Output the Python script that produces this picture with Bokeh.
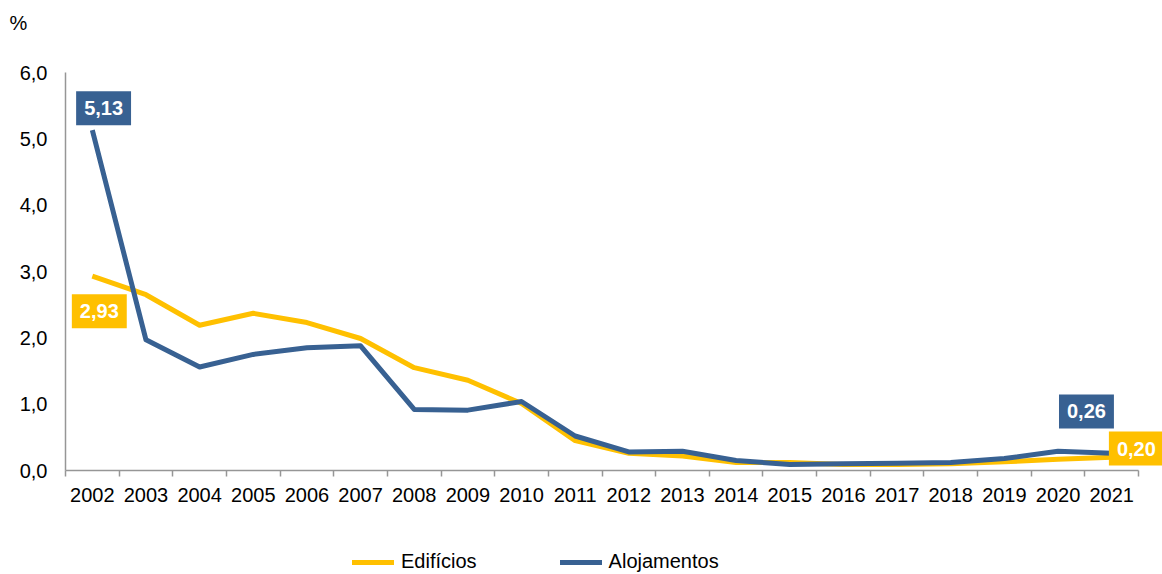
from bokeh.plotting import figure
from bokeh.layouts import column
from bokeh.models import (Range1d, FixedTicker, Label, Legend, LegendItem, ColumnDataSource)
from bokeh.embed import file_html
from bokeh.resources import INLINE

years = list(range(2002, 2022))
edificios = [2.93, 2.65, 2.19, 2.37, 2.23, 1.99, 1.55, 1.36, 1.01, 0.45,
             0.26, 0.22, 0.12, 0.12, 0.09, 0.09, 0.10, 0.13, 0.17, 0.20]
alojamentos = [5.13, 1.97, 1.56, 1.75, 1.85, 1.88, 0.92, 0.91, 1.04, 0.52,
               0.28, 0.29, 0.15, 0.09, 0.10, 0.11, 0.12, 0.18, 0.29, 0.26]
y_ticks = [0, 1, 2, 3, 4, 5, 6]
y_tick_labels = ["0,0", "1,0", "2,0", "3,0", "4,0", "5,0", "6,0"]
series_names = ["Edifícios", "Alojamentos"]
unit_label = "%"

YELLOW = "#FFC000"
BLUE = "#386192"
FONT = "Liberation Sans"
W = 1162


def blank_fig(h):
    f = figure(width=W, height=h, output_backend="svg", toolbar_location=None,
               x_range=Range1d(0, W), y_range=Range1d(0, h),
               x_axis_location=None, y_axis_location=None, frame_align=False,
               min_border_left=0, min_border_right=0, min_border_top=0, min_border_bottom=0)
    f.outline_line_color = None
    f.grid.visible = False
    f.border_fill_color = "white"
    f.background_fill_color = "white"
    return f


# --- top strip with the unit label
top = blank_fig(44)
top.add_layout(Label(x=18, y=22, text=unit_label, text_font=FONT, text_font_size="20px",
                     text_color="black", text_align="center", text_baseline="middle"))

# --- main chart
src = ColumnDataSource(dict(x=years, ed=edificios, al=alojamentos))
x_lo = years[0] - 0.5
x_hi = years[-1] + 0.5
p = figure(width=W, height=486, output_backend="svg", toolbar_location=None,
           x_range=Range1d(x_lo, x_hi + 24 / 53.65), y_range=Range1d(0, 6),
           min_border_left=65, min_border_right=0, min_border_top=28, min_border_bottom=60)
p.outline_line_color = None
p.grid.visible = False
p.background_fill_color = "white"
p.border_fill_color = "white"

r_ed = p.line("x", "ed", source=src, line_color=YELLOW, line_width=5, line_join="round")
r_al = p.line("x", "al", source=src, line_color=BLUE, line_width=5, line_join="round")

xa = p.xaxis[0]
xa.bounds = (x_lo, x_hi)
xa.ticker = FixedTicker(ticks=years, minor_ticks=[y - 0.5 for y in years] + [x_hi])
xa.major_tick_line_color = None
xa.major_tick_out = 6
xa.major_tick_in = 0
xa.minor_tick_line_color = "#969696"
xa.minor_tick_line_width = 1.5
xa.minor_tick_out = 6
xa.minor_tick_in = 0
xa.axis_line_color = "#969696"
xa.axis_line_width = 1.5
xa.major_label_text_font = FONT
xa.major_label_text_font_size = "20px"
xa.major_label_text_color = "black"
xa.major_label_standoff = 11

ya = p.yaxis[0]
ya.bounds = (0, 6)
ya.ticker = FixedTicker(ticks=y_ticks)
ya.major_label_overrides = {t: l for t, l in zip(y_ticks, y_tick_labels)}
ya.major_tick_line_color = None
ya.major_tick_out = 0
ya.major_tick_in = 0
ya.minor_tick_line_color = None
ya.axis_line_color = "#969696"
ya.axis_line_width = 1.5
ya.major_label_text_font = FONT
ya.major_label_text_font_size = "20px"
ya.major_label_text_color = "black"
ya.major_label_standoff = 18


def box(x, y, text, color):
    p.add_layout(Label(x=x, y=y, text=text, text_font=FONT, text_font_size="20px",
                       text_font_style="bold", text_color="white", text_align="center",
                       text_baseline="middle", background_fill_color=color,
                       background_fill_alpha=1.0, padding=(8, 10)))


box(2002.21, 5.46, "5,13", BLUE)
box(2002.13, 2.40, "2,93", YELLOW)
box(2020.53, 0.89, "0,26", BLUE)
box(2021.46, 0.33, "0,20", YELLOW)

# --- legend strip (lines kept off-screen; only their legend glyphs show)
leg = blank_fig(44)
l_ed = leg.line([-20, -10], [-20, -20], line_color=YELLOW, line_width=5, line_cap="round")
l_al = leg.line([-20, -10], [-20, -20], line_color=BLUE, line_width=5, line_cap="round")
legend = Legend(items=[LegendItem(label=series_names[0], renderers=[l_ed]),
                       LegendItem(label=series_names[1], renderers=[l_al])],
                orientation="horizontal", location=(352, 1),
                glyph_width=42, glyph_height=20, label_standoff=7, spacing=83,
                padding=0, margin=0, border_line_color=None, background_fill_alpha=0,
                label_text_font=FONT, label_text_font_size="20px", label_text_color="black")
leg.add_layout(legend)

layout = column(top, p, leg, spacing=0)
open("out.html", "w").write(file_html(layout, INLINE))
